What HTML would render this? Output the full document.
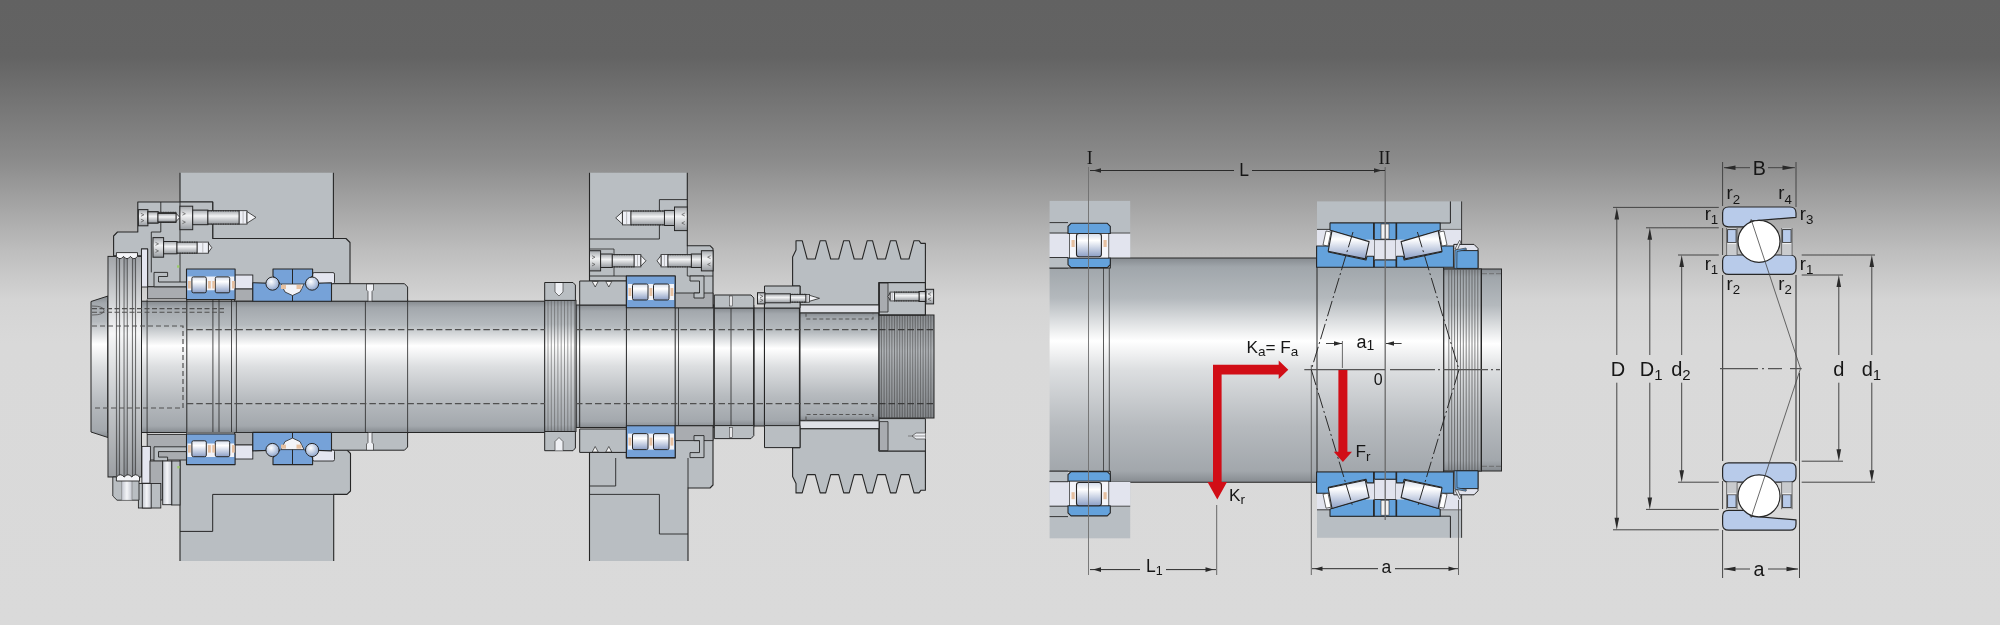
<!DOCTYPE html>
<html><head><meta charset="utf-8"><style>
html,body{margin:0;padding:0;width:2000px;height:625px;overflow:hidden;background:#cccccc;}
svg{display:block;font-family:"Liberation Sans",sans-serif;}
svg{will-change:transform;}
</style></head><body>
<svg width="2000" height="625" viewBox="0 0 2000 625">

<defs>
<linearGradient id="bg" x1="0" y1="0" x2="0" y2="625" gradientUnits="userSpaceOnUse">
<stop offset="0" stop-color="#626262"/>
<stop offset="0.09" stop-color="#636363"/>
<stop offset="0.256" stop-color="#8b8b8b"/>
<stop offset="0.40" stop-color="#bdbdbd"/>
<stop offset="0.48" stop-color="#d4d4d4"/>
<stop offset="0.55" stop-color="#d9d9d9"/>
<stop offset="1" stop-color="#dadada"/>
</linearGradient>
<linearGradient id="shaft" x1="0" y1="0" x2="0" y2="1">
<stop offset="0" stop-color="#868b90"/>
<stop offset="0.05" stop-color="#a3a8ad"/>
<stop offset="0.18" stop-color="#b5babe"/>
<stop offset="0.34" stop-color="#ffffff"/>
<stop offset="0.5" stop-color="#dcdee0"/>
<stop offset="0.75" stop-color="#b7bbbf"/>
<stop offset="0.95" stop-color="#a3a8ad"/>
<stop offset="1" stop-color="#868b90"/>
</linearGradient>
<linearGradient id="shaft2" x1="0" y1="0" x2="0" y2="1">
<stop offset="0" stop-color="#868b90"/>
<stop offset="0.04" stop-color="#a0a6ab"/>
<stop offset="0.18" stop-color="#b4b9bd"/>
<stop offset="0.37" stop-color="#ffffff"/>
<stop offset="0.5" stop-color="#dcdee0"/>
<stop offset="0.75" stop-color="#b6babe"/>
<stop offset="0.95" stop-color="#a2a7ac"/>
<stop offset="1" stop-color="#868b90"/>
</linearGradient>
<linearGradient id="shaftnut" x1="0" y1="0" x2="0" y2="1">
<stop offset="0" stop-color="#8e9297"/>
<stop offset="0.35" stop-color="#f4f5f6"/>
<stop offset="0.6" stop-color="#c4c7ca"/>
<stop offset="1" stop-color="#868a8f"/>
</linearGradient>
<linearGradient id="shaftdark" x1="0" y1="0" x2="0" y2="1">
<stop offset="0" stop-color="#7c8084"/>
<stop offset="0.35" stop-color="#a9adb1"/>
<stop offset="0.6" stop-color="#92969a"/>
<stop offset="1" stop-color="#75797d"/>
</linearGradient>
<linearGradient id="shaftdark2" x1="0" y1="0" x2="0" y2="1">
<stop offset="0" stop-color="#7d8186"/>
<stop offset="0.37" stop-color="#e6e8ea"/>
<stop offset="0.6" stop-color="#b0b4b8"/>
<stop offset="1" stop-color="#73777c"/>
</linearGradient>
<linearGradient id="roller" x1="0" y1="0" x2="0" y2="1">
<stop offset="0" stop-color="#d4dcea"/>
<stop offset="0.3" stop-color="#ffffff"/>
<stop offset="1" stop-color="#8c9fc6"/>
</linearGradient>
<linearGradient id="boltg" x1="0" y1="0" x2="0" y2="1">
<stop offset="0" stop-color="#a4a8ac"/>
<stop offset="0.4" stop-color="#f2f3f4"/>
<stop offset="1" stop-color="#979ba0"/>
</linearGradient>
<linearGradient id="boltv" x1="0" y1="0" x2="1" y2="0">
<stop offset="0" stop-color="#c4c8d0"/>
<stop offset="0.5" stop-color="#f4f5f8"/>
<stop offset="1" stop-color="#c4c8d0"/>
</linearGradient>
<radialGradient id="ball" cx="0.4" cy="0.35" r="0.7">
<stop offset="0" stop-color="#ffffff"/>
<stop offset="1" stop-color="#8aa2cc"/>
</radialGradient>
</defs>

<rect x="0" y="0" width="2000" height="625" fill="url(#bg)"/>
<polygon points="91.0,301.5 108.0,296.0 108.0,437.5 91.0,432.0" fill="url(#shaft)" stroke="#262626" stroke-width="1.0" stroke-linejoin="round" />
<rect x="108.0" y="301.2" width="437.0" height="131.3" rx="0" fill="url(#shaft)" stroke="#262626" stroke-width="1.0" />
<rect x="576.0" y="305.0" width="138.0" height="122.5" rx="0" fill="url(#shaft)" stroke="#262626" stroke-width="1.0" />
<rect x="714.0" y="308.0" width="40.0" height="117.5" rx="0" fill="url(#shaft)" stroke="#262626" stroke-width="1.0" />
<rect x="754.0" y="308.0" width="10.5" height="118.0" rx="0" fill="url(#shaft)" stroke="#262626" stroke-width="1.0" />
<rect x="764.5" y="308.0" width="35.5" height="118.5" rx="0" fill="url(#shaft)" stroke="#262626" stroke-width="1.0" />
<rect x="800.0" y="312.8" width="79.0" height="107.6" rx="0" fill="url(#shaft)" stroke="#262626" stroke-width="1.0" />
<rect x="879.0" y="315.0" width="55.0" height="103.0" rx="0" fill="url(#shaftdark)" stroke="#262626" stroke-width="1.0" />
<line x1="881.5" y1="315.5" x2="881.5" y2="417.5" stroke="#555" stroke-width="0.6" />
<line x1="882.8" y1="315.5" x2="882.8" y2="417.5" stroke="#c8cacc" stroke-width="0.5" opacity="0.5"/>
<line x1="884.1" y1="315.5" x2="884.1" y2="417.5" stroke="#555" stroke-width="0.6" />
<line x1="885.4" y1="315.5" x2="885.4" y2="417.5" stroke="#c8cacc" stroke-width="0.5" opacity="0.5"/>
<line x1="886.7" y1="315.5" x2="886.7" y2="417.5" stroke="#555" stroke-width="0.6" />
<line x1="888.0" y1="315.5" x2="888.0" y2="417.5" stroke="#c8cacc" stroke-width="0.5" opacity="0.5"/>
<line x1="889.3" y1="315.5" x2="889.3" y2="417.5" stroke="#555" stroke-width="0.6" />
<line x1="890.6" y1="315.5" x2="890.6" y2="417.5" stroke="#c8cacc" stroke-width="0.5" opacity="0.5"/>
<line x1="891.9" y1="315.5" x2="891.9" y2="417.5" stroke="#555" stroke-width="0.6" />
<line x1="893.2" y1="315.5" x2="893.2" y2="417.5" stroke="#c8cacc" stroke-width="0.5" opacity="0.5"/>
<line x1="894.5" y1="315.5" x2="894.5" y2="417.5" stroke="#555" stroke-width="0.6" />
<line x1="895.8" y1="315.5" x2="895.8" y2="417.5" stroke="#c8cacc" stroke-width="0.5" opacity="0.5"/>
<line x1="897.1" y1="315.5" x2="897.1" y2="417.5" stroke="#555" stroke-width="0.6" />
<line x1="898.4" y1="315.5" x2="898.4" y2="417.5" stroke="#c8cacc" stroke-width="0.5" opacity="0.5"/>
<line x1="899.7" y1="315.5" x2="899.7" y2="417.5" stroke="#555" stroke-width="0.6" />
<line x1="901.0" y1="315.5" x2="901.0" y2="417.5" stroke="#c8cacc" stroke-width="0.5" opacity="0.5"/>
<line x1="902.3" y1="315.5" x2="902.3" y2="417.5" stroke="#555" stroke-width="0.6" />
<line x1="903.6" y1="315.5" x2="903.6" y2="417.5" stroke="#c8cacc" stroke-width="0.5" opacity="0.5"/>
<line x1="904.9" y1="315.5" x2="904.9" y2="417.5" stroke="#555" stroke-width="0.6" />
<line x1="906.2" y1="315.5" x2="906.2" y2="417.5" stroke="#c8cacc" stroke-width="0.5" opacity="0.5"/>
<line x1="907.5" y1="315.5" x2="907.5" y2="417.5" stroke="#555" stroke-width="0.6" />
<line x1="908.8" y1="315.5" x2="908.8" y2="417.5" stroke="#c8cacc" stroke-width="0.5" opacity="0.5"/>
<line x1="910.1" y1="315.5" x2="910.1" y2="417.5" stroke="#555" stroke-width="0.6" />
<line x1="911.4" y1="315.5" x2="911.4" y2="417.5" stroke="#c8cacc" stroke-width="0.5" opacity="0.5"/>
<line x1="912.7" y1="315.5" x2="912.7" y2="417.5" stroke="#555" stroke-width="0.6" />
<line x1="914.0" y1="315.5" x2="914.0" y2="417.5" stroke="#c8cacc" stroke-width="0.5" opacity="0.5"/>
<line x1="915.3" y1="315.5" x2="915.3" y2="417.5" stroke="#555" stroke-width="0.6" />
<line x1="916.6" y1="315.5" x2="916.6" y2="417.5" stroke="#c8cacc" stroke-width="0.5" opacity="0.5"/>
<line x1="917.9" y1="315.5" x2="917.9" y2="417.5" stroke="#555" stroke-width="0.6" />
<line x1="919.2" y1="315.5" x2="919.2" y2="417.5" stroke="#c8cacc" stroke-width="0.5" opacity="0.5"/>
<line x1="920.5" y1="315.5" x2="920.5" y2="417.5" stroke="#555" stroke-width="0.6" />
<line x1="921.8" y1="315.5" x2="921.8" y2="417.5" stroke="#c8cacc" stroke-width="0.5" opacity="0.5"/>
<line x1="923.1" y1="315.5" x2="923.1" y2="417.5" stroke="#555" stroke-width="0.6" />
<line x1="924.4" y1="315.5" x2="924.4" y2="417.5" stroke="#c8cacc" stroke-width="0.5" opacity="0.5"/>
<line x1="925.7" y1="315.5" x2="925.7" y2="417.5" stroke="#555" stroke-width="0.6" />
<line x1="927.0" y1="315.5" x2="927.0" y2="417.5" stroke="#c8cacc" stroke-width="0.5" opacity="0.5"/>
<line x1="928.3" y1="315.5" x2="928.3" y2="417.5" stroke="#555" stroke-width="0.6" />
<line x1="929.6" y1="315.5" x2="929.6" y2="417.5" stroke="#c8cacc" stroke-width="0.5" opacity="0.5"/>
<line x1="930.9" y1="315.5" x2="930.9" y2="417.5" stroke="#555" stroke-width="0.6" />
<line x1="932.2" y1="315.5" x2="932.2" y2="417.5" stroke="#c8cacc" stroke-width="0.5" opacity="0.5"/>
<rect x="544.7" y="300.4" width="31.3" height="131.1" rx="0" fill="url(#shaft)" stroke="#262626" stroke-width="1.0" />
<line x1="548.0" y1="300.6" x2="548.0" y2="431.3" stroke="#5c5c5c" stroke-width="0.6" />
<line x1="551.3" y1="300.6" x2="551.3" y2="431.3" stroke="#5c5c5c" stroke-width="0.6" />
<line x1="554.6" y1="300.6" x2="554.6" y2="431.3" stroke="#5c5c5c" stroke-width="0.6" />
<line x1="557.9" y1="300.6" x2="557.9" y2="431.3" stroke="#5c5c5c" stroke-width="0.6" />
<line x1="561.2" y1="300.6" x2="561.2" y2="431.3" stroke="#5c5c5c" stroke-width="0.6" />
<line x1="564.5" y1="300.6" x2="564.5" y2="431.3" stroke="#5c5c5c" stroke-width="0.6" />
<line x1="567.8" y1="300.6" x2="567.8" y2="431.3" stroke="#5c5c5c" stroke-width="0.6" />
<line x1="571.1" y1="300.6" x2="571.1" y2="431.3" stroke="#5c5c5c" stroke-width="0.6" />
<line x1="574.4" y1="300.6" x2="574.4" y2="431.3" stroke="#5c5c5c" stroke-width="0.6" />
<line x1="141.5" y1="299.5" x2="141.5" y2="434.0" stroke="#262626" stroke-width="1.0" />
<line x1="147.1" y1="299.5" x2="147.1" y2="434.0" stroke="#262626" stroke-width="0.8" />
<line x1="186.8" y1="299.5" x2="186.8" y2="434.0" stroke="#262626" stroke-width="1.0" />
<line x1="212.9" y1="299.5" x2="212.9" y2="434.0" stroke="#262626" stroke-width="0.8" />
<line x1="219.0" y1="299.5" x2="219.0" y2="434.0" stroke="#262626" stroke-width="0.8" />
<line x1="231.5" y1="299.5" x2="231.5" y2="434.0" stroke="#262626" stroke-width="0.8" />
<line x1="236.4" y1="299.5" x2="236.4" y2="434.0" stroke="#262626" stroke-width="0.8" />
<line x1="365.4" y1="299.5" x2="365.4" y2="434.0" stroke="#262626" stroke-width="0.8" />
<line x1="407.6" y1="299.5" x2="407.6" y2="434.0" stroke="#262626" stroke-width="0.8" />
<line x1="579.7" y1="305.0" x2="579.7" y2="427.5" stroke="#262626" stroke-width="1.0" />
<line x1="626.4" y1="305.0" x2="626.4" y2="427.5" stroke="#262626" stroke-width="1.0" />
<line x1="675.2" y1="305.0" x2="675.2" y2="427.5" stroke="#262626" stroke-width="1.0" />
<line x1="678.5" y1="305.0" x2="678.5" y2="427.5" stroke="#262626" stroke-width="0.8" />
<line x1="714.3" y1="305.0" x2="714.3" y2="427.5" stroke="#262626" stroke-width="0.8" />
<line x1="731.0" y1="305.0" x2="731.0" y2="427.5" stroke="#262626" stroke-width="0.8" />
<line x1="753.8" y1="305.0" x2="753.8" y2="427.5" stroke="#262626" stroke-width="1.0" />
<line x1="764.4" y1="305.0" x2="764.4" y2="427.5" stroke="#262626" stroke-width="1.0" />
<line x1="799.4" y1="305.0" x2="799.4" y2="427.5" stroke="#262626" stroke-width="1.0" />
<rect x="108.0" y="256.4" width="33.5" height="220.6" rx="0" fill="url(#shaftnut)" stroke="#262626" stroke-width="1.0" />
<line x1="116.4" y1="257.0" x2="116.4" y2="476.5" stroke="#3a3a3a" stroke-width="0.75" />
<line x1="119.6" y1="257.0" x2="119.6" y2="476.5" stroke="#3a3a3a" stroke-width="0.75" />
<line x1="124.0" y1="257.0" x2="124.0" y2="476.5" stroke="#3a3a3a" stroke-width="0.75" />
<line x1="127.3" y1="257.0" x2="127.3" y2="476.5" stroke="#3a3a3a" stroke-width="0.75" />
<line x1="132.4" y1="257.0" x2="132.4" y2="476.5" stroke="#3a3a3a" stroke-width="0.75" />
<line x1="135.6" y1="257.0" x2="135.6" y2="476.5" stroke="#3a3a3a" stroke-width="0.75" />
<rect x="108.5" y="257.0" width="7.5" height="219.0" rx="0" fill="#ffffff" stroke="none" opacity="0.18"/>
<rect x="120.0" y="257.0" width="3.6" height="219.0" rx="0" fill="#ffffff" stroke="none" opacity="0.18"/>
<rect x="127.7" y="257.0" width="4.3" height="219.0" rx="0" fill="#ffffff" stroke="none" opacity="0.18"/>
<rect x="136.0" y="257.0" width="5.0" height="219.0" rx="0" fill="#ffffff" stroke="none" opacity="0.18"/>
<line x1="236.4" y1="329.7" x2="545.0" y2="329.7" stroke="#505050" stroke-width="1.3" stroke-dasharray="6.5,3"/>
<line x1="576.0" y1="329.7" x2="879.0" y2="329.7" stroke="#505050" stroke-width="1.3" stroke-dasharray="6.5,3"/>
<line x1="879.0" y1="329.7" x2="934.0" y2="329.7" stroke="#3a3a3a" stroke-width="1.2" stroke-dasharray="6.5,3"/>
<line x1="236.4" y1="403.7" x2="545.0" y2="403.7" stroke="#505050" stroke-width="1.3" stroke-dasharray="6.5,3"/>
<line x1="576.0" y1="403.7" x2="879.0" y2="403.7" stroke="#505050" stroke-width="1.3" stroke-dasharray="6.5,3"/>
<line x1="879.0" y1="403.7" x2="934.0" y2="403.7" stroke="#3a3a3a" stroke-width="1.2" stroke-dasharray="6.5,3"/>
<path d="M92,326 L183,326 L183,408 L92,408" fill="none" stroke="#505050" stroke-width="1.2" stroke-dasharray="5,3"/>
<line x1="186.8" y1="329.7" x2="236.4" y2="329.7" stroke="#505050" stroke-width="1.3" stroke-dasharray="6.5,3"/>
<line x1="186.8" y1="403.7" x2="236.4" y2="403.7" stroke="#505050" stroke-width="1.3" stroke-dasharray="6.5,3"/>
<line x1="92.0" y1="308.6" x2="224.0" y2="308.6" stroke="#505050" stroke-width="1.1" stroke-dasharray="5,2.5"/>
<line x1="92.0" y1="312.3" x2="224.0" y2="312.3" stroke="#505050" stroke-width="1.1" stroke-dasharray="5,2.5"/>
<path d="M92,306 Q104,306 104,310.5 Q104,315 92,315" fill="none" stroke="#505050" stroke-width="0.8" />
<polygon points="180.0,172.8 333.4,172.8 333.4,238.5 212.7,238.5 212.7,202.0 180.0,202.0" fill="#b9bec2" stroke="none" stroke-linejoin="round" />
<path d="M333.4,172.8 L333.4,238.5 L212.7,238.5 L212.7,202.0 L180.0,202.0 L180.0,172.8" fill="none" stroke="#262626" stroke-width="1.1" stroke-linejoin="round"/>
<polygon points="137.8,202.0 212.7,202.0 212.7,238.5 346.0,238.5 350.0,242.5 350.0,283.7 186.8,283.7 186.8,286.8 147.6,286.8 147.6,249.0 141.5,249.0 141.5,255.8 113.6,255.8 113.6,236.0 117.5,232.0 137.8,232.0" fill="#b9bec2" stroke="#262626" stroke-width="1.1" stroke-linejoin="round" />
<line x1="180.0" y1="202.0" x2="180.0" y2="283.7" stroke="#262626" stroke-width="0.9" />
<polygon points="331.5,283.7 404.5,283.7 407.6,287.0 407.6,301.2 331.5,301.2" fill="#b9bec2" stroke="#262626" stroke-width="1.0" stroke-linejoin="round" />
<path d="M366.5,284 L373.5,284 L373.5,290 L372,291.5 L372,301.2 L368,301.2 L368,291.5 L366.5,290 Z" fill="#eef0f4" stroke="#333" stroke-width="0.7"/>
<rect x="147.6" y="286.8" width="39.2" height="12.0" rx="0" fill="#a9acb0" stroke="#262626" stroke-width="0.9" />
<rect x="141.5" y="249.0" width="6.1" height="38.0" rx="0" fill="#e4e6f0" stroke="#262626" stroke-width="0.9" />
<polygon points="154.0,272.4 167.6,272.4 167.6,276.5 158.5,276.5 158.5,282.0 186.8,282.0 186.8,286.8 154.0,286.8" fill="#b9bec2" stroke="#262626" stroke-width="0.9" stroke-linejoin="round" />
<rect x="234.6" y="275.0" width="18.2" height="14.0" rx="0" fill="#e4e6f0" stroke="#262626" stroke-width="0.9" />
<rect x="234.6" y="289.0" width="18.2" height="12.0" rx="0" fill="#a9acb0" stroke="#262626" stroke-width="0.9" />
<rect x="312.6" y="272.6" width="21.9" height="11.1" rx="1.5" fill="#e4e6f0" stroke="#262626" stroke-width="0.9" />
<polygon points="186.5,269.0 235.1,269.0 235.1,299.6 186.5,299.6" fill="#76a2d8" stroke="#262626" stroke-width="1.1" stroke-linejoin="round" />
<polygon points="187.5,276.6 234.1,276.6 234.1,290.2 187.5,290.2" fill="#f2f3f8" stroke="none" stroke-linejoin="round" />
<rect x="191.9" y="276.9" width="14.4" height="15.9" rx="1.5" fill="url(#roller)" stroke="#262626" stroke-width="1.0" />
<rect x="215.3" y="276.9" width="14.4" height="15.9" rx="1.5" fill="url(#roller)" stroke="#262626" stroke-width="1.0" />
<rect x="188.0" y="281.0" width="2.8" height="7.5" rx="0" fill="#e6c0a0" stroke="none" />
<rect x="208.0" y="281.0" width="2.8" height="7.5" rx="0" fill="#e6c0a0" stroke="none" />
<rect x="212.3" y="281.0" width="2.8" height="7.5" rx="0" fill="#e6c0a0" stroke="none" />
<rect x="232.0" y="281.0" width="2.8" height="7.5" rx="0" fill="#e6c0a0" stroke="none" />
<polygon points="273.0,269.0 312.6,269.0 312.6,276.0 305.0,283.6 331.5,282.7 331.5,301.2 252.8,301.2 252.8,282.7 280.0,283.6 273.0,276.0" fill="#76a2d8" stroke="#262626" stroke-width="1.1" stroke-linejoin="round" />
<line x1="292.5" y1="269.0" x2="292.5" y2="301.2" stroke="#262626" stroke-width="1.0" />
<polygon points="281.0,284.0 304.0,284.0 300.0,292.0 292.5,295.5 285.0,292.0" fill="#f2f3f8" stroke="#262626" stroke-width="0.8" stroke-linejoin="round" />
<polygon points="281.0,285.0 286.0,285.0 286.0,289.0 281.0,289.0" fill="#e6c0a0" stroke="none" stroke-linejoin="round" />
<polygon points="296.5,285.0 301.5,285.0 301.5,289.0 296.5,289.0" fill="#e6c0a0" stroke="none" stroke-linejoin="round" />
<circle cx="272.5" cy="283.6" r="6.6" fill="url(#ball)" stroke="#262626" stroke-width="1.0"/>
<circle cx="312.1" cy="283.6" r="6.6" fill="url(#ball)" stroke="#262626" stroke-width="1.0"/>
<path d="M160.8,202 L160.8,212 M160.8,222.5 L160.8,232 L151.3,232 L151.3,272.4" fill="none" stroke="#262626" stroke-width="0.9" />
<rect x="138.4" y="209.6" width="9.5" height="16.2" rx="0" fill="url(#boltg)" stroke="#262626" stroke-width="1.0" />
<path d="M140.9,213.284 L143.9,214.784 L140.9,216.284" fill="none" stroke="#555" stroke-width="0.7" />
<path d="M140.9,219.116 L143.9,220.616 L140.9,222.116" fill="none" stroke="#555" stroke-width="0.7" />
<rect x="147.9" y="211.8" width="10.1" height="11.2" rx="0" fill="url(#boltg)" stroke="#262626" stroke-width="1.0" />
<rect x="158.0" y="212.4" width="18.0" height="10.0" rx="0" fill="url(#boltg)" stroke="#262626" stroke-width="0.9" />
<path d="M158,212.4 L176,212.4 M158,222.4 L176,222.4" stroke="#333" stroke-width="1.4" stroke-dasharray="0.8,0.9" fill="none"/>
<rect x="176.0" y="212.4" width="0.0" height="10.0" rx="0" fill="#eef0f6" stroke="#262626" stroke-width="0.8" />
<line x1="176.0" y1="212.8" x2="176.0" y2="222.0" stroke="#999" stroke-width="0.6" />
<polygon points="176.0,213.3 179.9,217.4 176.0,221.5" fill="#f2f3f6" stroke="#262626" stroke-width="0.8" stroke-linejoin="round" />
<rect x="147.9" y="211.8" width="10.1" height="11.2" rx="0" fill="url(#boltg)" stroke="#262626" stroke-width="1.0" />
<rect x="158.0" y="213.5" width="18.0" height="8.4" rx="0" fill="url(#boltg)" stroke="#262626" stroke-width="0.9" />
<rect x="179.9" y="206.2" width="12.8" height="23.5" rx="0" fill="url(#boltg)" stroke="#262626" stroke-width="1.0" />
<path d="M182.4,212.22 L185.4,213.72 L182.4,215.22" fill="none" stroke="#555" stroke-width="0.7" />
<path d="M182.4,220.67999999999998 L185.4,222.17999999999998 L182.4,223.67999999999998" fill="none" stroke="#555" stroke-width="0.7" />
<rect x="192.7" y="210.1" width="15.2" height="14.6" rx="0" fill="url(#boltg)" stroke="#262626" stroke-width="1.0" />
<rect x="207.9" y="210.7" width="31.3" height="13.4" rx="0" fill="url(#boltg)" stroke="#262626" stroke-width="0.9" />
<path d="M207.9,210.7 L239.2,210.7 M207.9,224.1 L239.2,224.1" stroke="#333" stroke-width="1.4" stroke-dasharray="0.8,0.9" fill="none"/>
<rect x="239.2" y="210.7" width="7.8" height="13.4" rx="0" fill="#eef0f6" stroke="#262626" stroke-width="0.8" />
<line x1="243.1" y1="211.1" x2="243.1" y2="223.7" stroke="#999" stroke-width="0.6" />
<polygon points="247.0,211.6 256.0,217.4 247.0,223.2" fill="#f2f3f6" stroke="#262626" stroke-width="0.8" stroke-linejoin="round" />
<rect x="153.0" y="237.6" width="10.6" height="19.6" rx="0" fill="url(#boltg)" stroke="#262626" stroke-width="1.0" />
<path d="M155.5,242.37199999999999 L158.5,243.87199999999999 L155.5,245.37199999999999" fill="none" stroke="#555" stroke-width="0.7" />
<path d="M155.5,249.428 L158.5,250.928 L155.5,252.428" fill="none" stroke="#555" stroke-width="0.7" />
<rect x="163.6" y="241.5" width="13.4" height="12.3" rx="0" fill="url(#boltg)" stroke="#262626" stroke-width="1.0" />
<rect x="177.0" y="242.1" width="20.2" height="11.1" rx="0" fill="url(#boltg)" stroke="#262626" stroke-width="0.9" />
<path d="M177,242.1 L197.2,242.1 M177,253.20000000000002 L197.2,253.20000000000002" stroke="#333" stroke-width="1.4" stroke-dasharray="0.8,0.9" fill="none"/>
<rect x="197.2" y="242.1" width="11.2" height="11.1" rx="0" fill="#eef0f6" stroke="#262626" stroke-width="0.8" />
<line x1="202.8" y1="242.5" x2="202.8" y2="252.8" stroke="#999" stroke-width="0.6" />
<polygon points="208.4,243.0 211.8,247.7 208.4,252.3" fill="#f2f3f6" stroke="#262626" stroke-width="0.8" stroke-linejoin="round" />
<rect x="177.0" y="265.3" width="2.4" height="2.4" rx="0" fill="#9ccc6a" stroke="none" />
<polygon points="180.0,450.0 347.0,450.0 350.5,453.5 350.5,491.0 347.0,494.4 333.7,494.4 333.7,561.0 180.0,561.0" fill="#b9bec2" stroke="none" stroke-linejoin="round" />
<path d="M180.0,561.0 L180.0,450.0 L347.0,450.0 L350.5,453.5 L350.5,491.0 L347.0,494.4 L333.7,494.4 L333.7,561.0" fill="none" stroke="#262626" stroke-width="1.1" stroke-linejoin="round"/>
<path d="M212.7,494.4 L333.7,494.4 M212.7,494.4 L212.7,531.4 L180,531.4" fill="none" stroke="#262626" stroke-width="1.0" />
<polygon points="186.8,432.5 350.5,432.5 350.5,450.0 186.8,450.0" fill="#b9bec2" stroke="none" stroke-linejoin="round" />
<polygon points="331.5,432.5 407.6,432.5 407.6,447.0 404.5,450.2 331.5,450.2" fill="#b9bec2" stroke="#262626" stroke-width="1.0" stroke-linejoin="round" />
<path d="M366.5,450.2 L373.5,450.2 L373.5,444 L372,442.5 L372,432.5 L368,432.5 L368,442.5 L366.5,444 Z" fill="#eef0f4" stroke="#333" stroke-width="0.7"/>
<rect x="147.2" y="434.4" width="39.6" height="25.6" rx="0" fill="#a9acb0" stroke="#262626" stroke-width="0.9" />
<rect x="234.6" y="432.5" width="18.2" height="12.5" rx="0" fill="#a9acb0" stroke="#262626" stroke-width="0.9" />
<rect x="234.6" y="445.0" width="18.2" height="14.0" rx="0" fill="#e4e6f0" stroke="#262626" stroke-width="0.9" />
<rect x="312.6" y="450.0" width="21.9" height="11.0" rx="1.5" fill="#e4e6f0" stroke="#262626" stroke-width="0.9" />
<rect x="141.9" y="446.4" width="8.5" height="36.8" rx="0" fill="#e4e6f0" stroke="#262626" stroke-width="0.9" />
<polygon points="154.0,461.2 167.6,461.2 167.6,457.1 158.5,457.1 158.5,451.6 186.8,451.6 186.8,446.8 154.0,446.8" fill="#b9bec2" stroke="#262626" stroke-width="0.9" stroke-linejoin="round" />
<rect x="171.7" y="461.0" width="8.3" height="44.0" rx="0" fill="#b9bec2" stroke="#262626" stroke-width="0.9" />
<rect x="150.0" y="461.0" width="12.7" height="39.0" rx="0" fill="#a9acb0" stroke="#262626" stroke-width="0.9" />
<rect x="138.4" y="483.5" width="22.4" height="24.5" rx="0" fill="#b9bec2" stroke="#262626" stroke-width="0.9" />
<rect x="142.3" y="483.5" width="8.9" height="24.5" rx="0" fill="url(#boltv)" stroke="#262626" stroke-width="0.9" />
<rect x="162.7" y="461.0" width="9.0" height="43.7" rx="0" fill="url(#boltv)" stroke="#262626" stroke-width="0.9" />
<polygon points="112.8,477.0 139.0,477.0 139.0,500.2 117.0,500.2 112.8,496.0" fill="#b9bec2" stroke="#262626" stroke-width="0.9" stroke-linejoin="round" />
<rect x="121.8" y="478.0" width="10.2" height="22.2" rx="0" fill="url(#boltv)" stroke="#777" stroke-width="0.6" />
<rect x="177.3" y="466.0" width="2.4" height="2.4" rx="0" fill="#9ccc6a" stroke="none" />
<path d="M116.4,256.4 L116.4,252.6 L137.5,252.6 L137.5,256.4 Q133.8,261 130.4,256.4 Q127,261 123.6,256.4 Q120,261 116.4,256.4 Z" fill="#f4f5f8" stroke="#262626" stroke-width="0.9"/>
<path d="M116.4,477 L116.4,481 L139.5,481 L139.5,477 Q135.6,472.5 131.8,477 Q128,472.5 124.2,477 Q120.3,472.5 116.4,477 Z" fill="#f4f5f8" stroke="#262626" stroke-width="0.9"/>
<polygon points="186.5,464.6 235.1,464.6 235.1,434.0 186.5,434.0" fill="#76a2d8" stroke="#262626" stroke-width="1.1" stroke-linejoin="round" />
<polygon points="187.5,457.0 234.1,457.0 234.1,443.4 187.5,443.4" fill="#f2f3f8" stroke="none" stroke-linejoin="round" />
<rect x="191.9" y="440.8" width="14.4" height="15.9" rx="1.5" fill="url(#roller)" stroke="#262626" stroke-width="1.0" />
<rect x="215.3" y="440.8" width="14.4" height="15.9" rx="1.5" fill="url(#roller)" stroke="#262626" stroke-width="1.0" />
<rect x="188.0" y="445.1" width="2.8" height="7.5" rx="0" fill="#e6c0a0" stroke="none" />
<rect x="208.0" y="445.1" width="2.8" height="7.5" rx="0" fill="#e6c0a0" stroke="none" />
<rect x="212.3" y="445.1" width="2.8" height="7.5" rx="0" fill="#e6c0a0" stroke="none" />
<rect x="232.0" y="445.1" width="2.8" height="7.5" rx="0" fill="#e6c0a0" stroke="none" />
<polygon points="273.0,464.6 312.6,464.6 312.6,457.6 305.0,450.0 331.5,450.9 331.5,432.4 252.8,432.4 252.8,450.9 280.0,450.0 273.0,457.6" fill="#76a2d8" stroke="#262626" stroke-width="1.1" stroke-linejoin="round" />
<line x1="292.5" y1="464.6" x2="292.5" y2="432.4" stroke="#262626" stroke-width="1.0" />
<polygon points="281.0,449.6 304.0,449.6 300.0,441.6 292.5,438.1 285.0,441.6" fill="#f2f3f8" stroke="#262626" stroke-width="0.8" stroke-linejoin="round" />
<polygon points="281.0,448.6 286.0,448.6 286.0,444.6 281.0,444.6" fill="#e6c0a0" stroke="none" stroke-linejoin="round" />
<polygon points="296.5,448.6 301.5,448.6 301.5,444.6 296.5,444.6" fill="#e6c0a0" stroke="none" stroke-linejoin="round" />
<circle cx="272.5" cy="450.0" r="6.6" fill="url(#ball)" stroke="#262626" stroke-width="1.0"/>
<circle cx="312.1" cy="450.0" r="6.6" fill="url(#ball)" stroke="#262626" stroke-width="1.0"/>
<polygon points="589.5,172.8 687.3,172.8 687.3,245.7 710.0,245.7 713.0,248.7 713.0,307.8 675.2,307.8 675.2,276.0 626.4,276.0 626.4,281.0 589.5,281.0" fill="#b9bec2" stroke="none" stroke-linejoin="round" />
<path d="M687.3,172.8 L687.3,245.7 L710.0,245.7 L713.0,248.7 L713.0,307.8 L675.2,307.8 L675.2,276.0 L626.4,276.0 L626.4,281.0 L589.5,281.0 L589.5,172.8" fill="none" stroke="#262626" stroke-width="1.1" stroke-linejoin="round"/>
<path d="M659.4,199.6 L687.3,199.6 M659.4,199.6 L659.4,239 L589.5,239 M589.5,276 L626.4,276" fill="none" stroke="#262626" stroke-width="0.9" />
<path d="M589.5,249 L614,249 L614,276 M687.3,245.7 L687.3,276 L713,276" fill="none" stroke="#262626" stroke-width="0.8" />
<polygon points="544.7,282.5 573.0,282.5 575.4,285.0 575.4,300.4 544.7,300.4" fill="#b9bec2" stroke="#262626" stroke-width="1.0" stroke-linejoin="round" />
<path d="M555,283 L555,292 L559,296 L563,292 L563,283" fill="#eef0f4" stroke="#444" stroke-width="0.7"/>
<polygon points="579.7,281.0 626.4,281.0 626.4,305.0 579.7,305.0" fill="#b9bec2" stroke="#262626" stroke-width="1.0" stroke-linejoin="round" />
<polygon points="592.2,281.5 598.2,281.5 595.2,287.0" fill="#f4f4f4" stroke="#262626" stroke-width="0.7" stroke-linejoin="round" />
<polygon points="605.8,281.5 611.8,281.5 608.8,287.0" fill="#f4f4f4" stroke="#262626" stroke-width="0.7" stroke-linejoin="round" />
<polygon points="589.5,452.4 626.4,452.4 626.4,458.0 675.2,458.0 675.2,425.5 713.0,425.5 713.0,485.0 710.0,488.0 688.0,488.0 688.0,561.0 589.5,561.0" fill="#b9bec2" stroke="none" stroke-linejoin="round" />
<path d="M589.5,561.0 L589.5,452.4 L626.4,452.4 L626.4,458.0 L675.2,458.0 L675.2,425.5 L713.0,425.5 L713.0,485.0 L710.0,488.0 L688.0,488.0 L688.0,561.0" fill="none" stroke="#262626" stroke-width="1.1" stroke-linejoin="round"/>
<path d="M589.5,486 L615.7,486 L615.7,458 M589.5,494.4 L659.4,494.4 L659.4,534 L688,534 M688,458 L688,488" fill="none" stroke="#262626" stroke-width="0.9" />
<polygon points="544.7,431.5 575.4,431.5 575.4,448.0 573.0,450.7 544.7,450.7" fill="#b9bec2" stroke="#262626" stroke-width="1.0" stroke-linejoin="round" />
<path d="M555,450.5 L555,441.5 L559,437.5 L563,441.5 L563,450.5" fill="#eef0f4" stroke="#444" stroke-width="0.7"/>
<polygon points="579.7,429.0 626.4,429.0 626.4,452.4 579.7,452.4" fill="#b9bec2" stroke="#262626" stroke-width="1.0" stroke-linejoin="round" />
<polygon points="592.2,452.0 598.2,452.0 595.2,446.5" fill="#f4f4f4" stroke="#262626" stroke-width="0.7" stroke-linejoin="round" />
<polygon points="605.8,452.0 611.8,452.0 608.8,446.5" fill="#f4f4f4" stroke="#262626" stroke-width="0.7" stroke-linejoin="round" />
<polygon points="626.4,276.0 675.2,276.0 675.2,307.8 626.4,307.8" fill="#76a2d8" stroke="#262626" stroke-width="1.1" stroke-linejoin="round" />
<rect x="628.0" y="284.0" width="46.0" height="16.0" rx="0" fill="#f2f3f8" stroke="none" />
<rect x="632.5" y="284.0" width="15.5" height="16.0" rx="1.5" fill="url(#roller)" stroke="#262626" stroke-width="1.0" />
<rect x="653.5" y="284.0" width="15.5" height="16.0" rx="1.5" fill="url(#roller)" stroke="#262626" stroke-width="1.0" />
<rect x="628.5" y="288.0" width="2.8" height="8.0" rx="0" fill="#e6c0a0" stroke="none" />
<rect x="649.5" y="288.0" width="2.8" height="8.0" rx="0" fill="#e6c0a0" stroke="none" />
<rect x="670.5" y="288.0" width="2.8" height="8.0" rx="0" fill="#e6c0a0" stroke="none" />
<polygon points="675.2,293.0 713.0,293.0 713.0,307.8 675.2,307.8" fill="#a9acb0" stroke="#262626" stroke-width="0.9" stroke-linejoin="round" />
<polygon points="690.0,276.0 704.0,276.0 704.0,298.0 694.0,298.0 694.0,293.0 699.5,293.0 699.5,281.0 690.0,281.0" fill="#b9bec2" stroke="#262626" stroke-width="0.9" stroke-linejoin="round" />
<polygon points="714.3,295.0 751.0,295.0 753.8,298.0 753.8,308.0 714.3,308.0" fill="#b9bec2" stroke="#262626" stroke-width="1.0" stroke-linejoin="round" />
<rect x="729.5" y="296.0" width="3.0" height="10.0" rx="0" fill="#e8e8ea" stroke="#262626" stroke-width="0.5" />
<polygon points="626.4,457.6 675.2,457.6 675.2,425.8 626.4,425.8" fill="#76a2d8" stroke="#262626" stroke-width="1.1" stroke-linejoin="round" />
<rect x="628.0" y="433.6" width="46.0" height="16.0" rx="0" fill="#f2f3f8" stroke="none" />
<rect x="632.5" y="433.6" width="15.5" height="16.0" rx="1.5" fill="url(#roller)" stroke="#262626" stroke-width="1.0" />
<rect x="653.5" y="433.6" width="15.5" height="16.0" rx="1.5" fill="url(#roller)" stroke="#262626" stroke-width="1.0" />
<rect x="628.5" y="437.6" width="2.8" height="8.0" rx="0" fill="#e6c0a0" stroke="none" />
<rect x="649.5" y="437.6" width="2.8" height="8.0" rx="0" fill="#e6c0a0" stroke="none" />
<rect x="670.5" y="437.6" width="2.8" height="8.0" rx="0" fill="#e6c0a0" stroke="none" />
<polygon points="675.2,440.6 713.0,440.6 713.0,425.8 675.2,425.8" fill="#a9acb0" stroke="#262626" stroke-width="0.9" stroke-linejoin="round" />
<polygon points="690.0,457.6 704.0,457.6 704.0,435.6 694.0,435.6 694.0,440.6 699.5,440.6 699.5,452.6 690.0,452.6" fill="#b9bec2" stroke="#262626" stroke-width="0.9" stroke-linejoin="round" />
<polygon points="714.3,438.6 751.0,438.6 753.8,435.6 753.8,425.6 714.3,425.6" fill="#b9bec2" stroke="#262626" stroke-width="1.0" stroke-linejoin="round" />
<rect x="729.5" y="427.6" width="3.0" height="10.0" rx="0" fill="#e8e8ea" stroke="#262626" stroke-width="0.5" />
<rect x="674.5" y="207.0" width="12.8" height="23.6" rx="0" fill="url(#boltg)" stroke="#262626" stroke-width="1.0" />
<path d="M684.8,213.052 L681.8,214.552 L684.8,216.052" fill="none" stroke="#555" stroke-width="0.7" />
<path d="M684.8,221.548 L681.8,223.048 L684.8,224.548" fill="none" stroke="#555" stroke-width="0.7" />
<rect x="664.4" y="210.4" width="10.1" height="15.1" rx="0" fill="url(#boltg)" stroke="#262626" stroke-width="1.0" />
<rect x="630.8" y="211.0" width="33.6" height="13.9" rx="0" fill="url(#boltg)" stroke="#262626" stroke-width="0.9" />
<path d="M664.4000000000001,211.0 L630.8,211.0 M664.4000000000001,224.9 L630.8,224.9" stroke="#333" stroke-width="1.4" stroke-dasharray="0.8,0.9" fill="none"/>
<rect x="622.4" y="211.0" width="8.4" height="13.9" rx="0" fill="#eef0f6" stroke="#262626" stroke-width="0.8" />
<line x1="626.6" y1="211.4" x2="626.6" y2="224.5" stroke="#999" stroke-width="0.6" />
<polygon points="622.4,211.9 615.7,217.9 622.4,224.0" fill="#f2f3f6" stroke="#262626" stroke-width="0.8" stroke-linejoin="round" />
<rect x="589.5" y="250.7" width="11.1" height="20.2" rx="0" fill="url(#boltg)" stroke="#262626" stroke-width="1.0" />
<path d="M592.0,255.664 L595.0,257.164 L592.0,258.664" fill="none" stroke="#555" stroke-width="0.7" />
<path d="M592.0,262.936 L595.0,264.436 L592.0,265.936" fill="none" stroke="#555" stroke-width="0.7" />
<rect x="600.6" y="254.0" width="11.7" height="13.5" rx="0" fill="url(#boltg)" stroke="#262626" stroke-width="1.0" />
<rect x="612.3" y="254.6" width="21.9" height="12.3" rx="0" fill="url(#boltg)" stroke="#262626" stroke-width="0.9" />
<path d="M612.3,254.6 L634.2,254.6 M612.3,266.9 L634.2,266.9" stroke="#333" stroke-width="1.4" stroke-dasharray="0.8,0.9" fill="none"/>
<rect x="634.2" y="254.6" width="6.7" height="12.3" rx="0" fill="#eef0f6" stroke="#262626" stroke-width="0.8" />
<line x1="637.5" y1="255.0" x2="637.5" y2="266.5" stroke="#999" stroke-width="0.6" />
<polygon points="640.9,255.5 646.0,260.8 640.9,266.0" fill="#f2f3f6" stroke="#262626" stroke-width="0.8" stroke-linejoin="round" />
<rect x="701.4" y="250.7" width="11.7" height="20.2" rx="0" fill="url(#boltg)" stroke="#262626" stroke-width="1.0" />
<path d="M710.5999999999999,255.664 L707.5999999999999,257.164 L710.5999999999999,258.664" fill="none" stroke="#555" stroke-width="0.7" />
<path d="M710.5999999999999,262.936 L707.5999999999999,264.436 L710.5999999999999,265.936" fill="none" stroke="#555" stroke-width="0.7" />
<rect x="691.3" y="254.0" width="10.1" height="13.5" rx="0" fill="url(#boltg)" stroke="#262626" stroke-width="1.0" />
<rect x="667.8" y="254.6" width="23.5" height="12.3" rx="0" fill="url(#boltg)" stroke="#262626" stroke-width="0.9" />
<path d="M691.3,254.6 L667.8,254.6 M691.3,266.9 L667.8,266.9" stroke="#333" stroke-width="1.4" stroke-dasharray="0.8,0.9" fill="none"/>
<rect x="661.0" y="254.6" width="6.8" height="12.3" rx="0" fill="#eef0f6" stroke="#262626" stroke-width="0.8" />
<line x1="664.4" y1="255.0" x2="664.4" y2="266.5" stroke="#999" stroke-width="0.6" />
<polygon points="661.0,255.5 657.0,260.8 661.0,266.0" fill="#f2f3f6" stroke="#262626" stroke-width="0.8" stroke-linejoin="round" />
<polygon points="796.0,250.0 796.0,240.7 802.2,240.7 807.2,259.0 815.2,259.0 820.2,240.7 825.7,240.7 830.7,259.0 838.7,259.0 843.7,240.7 849.2,240.7 854.2,259.0 862.2,259.0 867.2,240.7 872.5,240.7 877.5,259.0 885.5,259.0 890.5,240.7 896.0,240.7 901.0,259.0 909.0,259.0 914.0,240.7 919.0,240.7 921.0,243.4 925.4,243.4 925.4,282.6 879.0,282.6 879.0,305.0 800.0,305.0 800.0,286.0 792.6,286.0 792.6,257.0" fill="#b9bec2" stroke="#262626" stroke-width="1.1" stroke-linejoin="round" />
<polygon points="879.0,282.6 925.4,282.6 925.4,315.0 879.0,315.0" fill="#b9bec2" stroke="#262626" stroke-width="1.0" stroke-linejoin="round" />
<polygon points="879.5,283.0 888.0,283.0 888.0,312.0 879.5,312.0" fill="#a9acb0" stroke="#262626" stroke-width="0.8" stroke-linejoin="round" />
<polygon points="800.0,305.0 879.0,305.0 879.0,312.8 800.0,312.8" fill="#dfe1e6" stroke="#262626" stroke-width="0.9" stroke-linejoin="round" />
<polygon points="764.5,286.0 800.0,286.0 800.0,308.0 764.5,308.0" fill="#b9bec2" stroke="#262626" stroke-width="1.0" stroke-linejoin="round" />
<polygon points="796.0,483.6 796.0,492.9 802.2,492.9 807.2,474.6 815.2,474.6 820.2,492.9 825.7,492.9 830.7,474.6 838.7,474.6 843.7,492.9 849.2,492.9 854.2,474.6 862.2,474.6 867.2,492.9 872.5,492.9 877.5,474.6 885.5,474.6 890.5,492.9 896.0,492.9 901.0,474.6 909.0,474.6 914.0,492.9 919.0,492.9 921.0,490.2 925.4,490.2 925.4,451.0 879.0,451.0 879.0,428.6 800.0,428.6 800.0,447.6 792.6,447.6 792.6,476.6" fill="#b9bec2" stroke="#262626" stroke-width="1.1" stroke-linejoin="round" />
<polygon points="879.0,451.0 925.4,451.0 925.4,418.6 879.0,418.6" fill="#b9bec2" stroke="#262626" stroke-width="1.0" stroke-linejoin="round" />
<polygon points="879.5,450.6 888.0,450.6 888.0,421.6 879.5,421.6" fill="#a9acb0" stroke="#262626" stroke-width="0.8" stroke-linejoin="round" />
<polygon points="800.0,428.6 879.0,428.6 879.0,420.8 800.0,420.8" fill="#dfe1e6" stroke="#262626" stroke-width="0.9" stroke-linejoin="round" />
<polygon points="764.5,447.6 800.0,447.6 800.0,425.6 764.5,425.6" fill="#b9bec2" stroke="#262626" stroke-width="1.0" stroke-linejoin="round" />
<path d="M806,312.8 L806,319 L873,319 L873,312.8" fill="none" stroke="#555" stroke-width="1.1" stroke-dasharray="4,2.5"/>
<path d="M806,420.4 L806,414.5 L873,414.5 L873,420.4" fill="none" stroke="#555" stroke-width="1.1" stroke-dasharray="4,2.5"/>
<rect x="757.5" y="292.7" width="7.5" height="11.2" rx="0" fill="url(#boltg)" stroke="#262626" stroke-width="1.0" />
<path d="M760.0,294.784 L763.0,296.284 L760.0,297.784" fill="none" stroke="#555" stroke-width="0.7" />
<path d="M760.0,298.816 L763.0,300.316 L760.0,301.816" fill="none" stroke="#555" stroke-width="0.7" />
<rect x="765.0" y="293.8" width="25.4" height="9.0" rx="0" fill="url(#boltg)" stroke="#262626" stroke-width="1.0" />
<rect x="790.4" y="294.4" width="15.6" height="7.8" rx="0" fill="url(#boltg)" stroke="#262626" stroke-width="0.9" />
<path d="M790.4,294.40000000000003 L806,294.40000000000003 M790.4,302.2 L806,302.2" stroke="#333" stroke-width="1.4" stroke-dasharray="0.8,0.9" fill="none"/>
<rect x="806.0" y="294.4" width="3.4" height="7.8" rx="0" fill="#eef0f6" stroke="#262626" stroke-width="0.8" />
<line x1="807.7" y1="294.8" x2="807.7" y2="301.8" stroke="#999" stroke-width="0.6" />
<polygon points="809.4,295.3 819.5,298.3 809.4,301.3" fill="#f2f3f6" stroke="#262626" stroke-width="0.8" stroke-linejoin="round" />
<rect x="925.8" y="289.3" width="7.8" height="14.6" rx="0" fill="url(#boltg)" stroke="#262626" stroke-width="1.0" />
<path d="M931.0999999999999,292.472 L928.0999999999999,293.972 L931.0999999999999,295.472" fill="none" stroke="#555" stroke-width="0.7" />
<path d="M931.0999999999999,297.728 L928.0999999999999,299.228 L931.0999999999999,300.728" fill="none" stroke="#555" stroke-width="0.7" />
<rect x="919.0" y="291.5" width="6.8" height="10.0" rx="0" fill="url(#boltg)" stroke="#262626" stroke-width="1.0" />
<rect x="894.5" y="292.1" width="24.5" height="8.8" rx="0" fill="url(#boltg)" stroke="#262626" stroke-width="0.9" />
<path d="M919.0,292.1 L894.5,292.1 M919.0,300.9 L894.5,300.9" stroke="#333" stroke-width="1.4" stroke-dasharray="0.8,0.9" fill="none"/>
<rect x="890.0" y="292.1" width="4.5" height="8.8" rx="0" fill="#eef0f6" stroke="#262626" stroke-width="0.8" />
<line x1="892.2" y1="292.5" x2="892.2" y2="300.5" stroke="#999" stroke-width="0.6" />
<polygon points="890.0,293.0 888.0,296.5 890.0,300.0" fill="#f2f3f6" stroke="#262626" stroke-width="0.8" stroke-linejoin="round" />
<rect x="879.0" y="282.6" width="46.4" height="32.4" rx="0" fill="none" stroke="#262626" stroke-width="1.0" />
<path d="M925.4,433 L916,433 L912,436 L916,439 L925.4,439" fill="#eef0f4" stroke="#444" stroke-width="0.7"/>
<line x1="908.0" y1="436.0" x2="926.0" y2="436.0" stroke="#555" stroke-width="0.6" />
<polygon points="1049.6,268.0 1110.3,268.0 1110.3,258.0 1317.0,258.0 1317.0,266.7 1443.6,266.7 1443.6,270.6 1501.0,270.6 1501.0,469.4 1443.6,469.4 1443.6,472.3 1317.0,472.3 1317.0,482.3 1110.3,482.3 1110.3,471.2 1049.6,471.2" fill="url(#shaft2)" stroke="none" stroke-linejoin="round" />
<path d="M1049.6,268.0 L1110.3,268.0 L1110.3,258.0 L1317.0,258.0 L1317.0,266.7 L1443.6,266.7 L1443.6,270.6 L1501.0,270.6 L1501.0,469.4 L1443.6,469.4 L1443.6,472.3 L1317.0,472.3 L1317.0,482.3 L1110.3,482.3 L1110.3,471.2 L1049.6,471.2" fill="none" stroke="#262626" stroke-width="1.1" stroke-linejoin="round"/>
<line x1="1103.5" y1="268.0" x2="1103.5" y2="472.0" stroke="#333" stroke-width="0.8" />
<line x1="1109.3" y1="268.0" x2="1109.3" y2="472.0" stroke="#333" stroke-width="0.8" />
<line x1="1317.0" y1="258.0" x2="1317.0" y2="482.0" stroke="#262626" stroke-width="1.0" />
<rect x="1443.8" y="269.0" width="57.7" height="202.0" rx="0" fill="url(#shaft2)" stroke="#262626" stroke-width="1.0" />
<rect x="1443.8" y="269.0" width="37.7" height="202.0" rx="0" fill="url(#shaft2)" stroke="#262626" stroke-width="1.0" />
<line x1="1448.8" y1="269.5" x2="1448.8" y2="470.5" stroke="#505050" stroke-width="0.7" />
<line x1="1451.7" y1="269.5" x2="1451.7" y2="470.5" stroke="#505050" stroke-width="0.7" />
<line x1="1454.6" y1="269.5" x2="1454.6" y2="470.5" stroke="#505050" stroke-width="0.7" />
<line x1="1457.5" y1="269.5" x2="1457.5" y2="470.5" stroke="#505050" stroke-width="0.7" />
<line x1="1460.4" y1="269.5" x2="1460.4" y2="470.5" stroke="#505050" stroke-width="0.7" />
<line x1="1463.3" y1="269.5" x2="1463.3" y2="470.5" stroke="#505050" stroke-width="0.7" />
<line x1="1466.2" y1="269.5" x2="1466.2" y2="470.5" stroke="#505050" stroke-width="0.7" />
<line x1="1469.1" y1="269.5" x2="1469.1" y2="470.5" stroke="#505050" stroke-width="0.7" />
<line x1="1472.0" y1="269.5" x2="1472.0" y2="470.5" stroke="#505050" stroke-width="0.7" />
<line x1="1474.9" y1="269.5" x2="1474.9" y2="470.5" stroke="#505050" stroke-width="0.7" />
<line x1="1477.8" y1="269.5" x2="1477.8" y2="470.5" stroke="#505050" stroke-width="0.7" />
<line x1="1480.7" y1="269.5" x2="1480.7" y2="470.5" stroke="#505050" stroke-width="0.7" />
<line x1="1481.5" y1="269.0" x2="1481.5" y2="471.0" stroke="#262626" stroke-width="1.0" />
<line x1="1482.0" y1="273.7" x2="1501.0" y2="273.7" stroke="#666" stroke-width="0.8" stroke-dasharray="5,2"/>
<line x1="1482.0" y1="466.3" x2="1501.0" y2="466.3" stroke="#666" stroke-width="0.8" stroke-dasharray="5,2"/>
<rect x="1049.6" y="200.9" width="80.6" height="56.3" rx="0" fill="#b8bec3" stroke="none" />
<rect x="1049.6" y="257.2" width="18.4" height="10.8" rx="0" fill="#b8bec3" stroke="none" />
<rect x="1049.6" y="233.3" width="80.6" height="23.9" rx="0" fill="#e2e4ee" stroke="none" />
<line x1="1049.6" y1="222.6" x2="1068.0" y2="222.6" stroke="#262626" stroke-width="0.9" />
<line x1="1049.6" y1="233.0" x2="1068.0" y2="233.0" stroke="#262626" stroke-width="0.9" />
<line x1="1110.3" y1="233.0" x2="1130.2" y2="233.0" stroke="#444" stroke-width="0.9" />
<line x1="1049.6" y1="257.5" x2="1068.0" y2="257.5" stroke="#262626" stroke-width="0.9" />
<line x1="1049.6" y1="268.0" x2="1068.0" y2="268.0" stroke="#262626" stroke-width="0.9" />
<polygon points="1068.0,233.5 1068.0,226.3 1071.0,223.3 1107.3,223.3 1110.3,226.3 1110.3,233.5" fill="#64a2dc" stroke="#262626" stroke-width="1.1" stroke-linejoin="round" />
<polygon points="1068.0,258.0 1110.3,258.0 1110.3,264.6 1107.3,267.6 1071.0,267.6 1068.0,264.6" fill="#64a2dc" stroke="#262626" stroke-width="1.1" stroke-linejoin="round" />
<rect x="1069.5" y="233.5" width="39.3" height="24.5" rx="0" fill="#f4f5fa" stroke="#262626" stroke-width="0.7" />
<rect x="1076.5" y="233.5" width="24.9" height="23.2" rx="2.5" fill="url(#roller)" stroke="#262626" stroke-width="1.1" />
<rect x="1071.5" y="240.0" width="3.2" height="7.0" rx="0" fill="#e6c0a0" stroke="none" />
<rect x="1103.5" y="240.0" width="3.2" height="7.0" rx="0" fill="#e6c0a0" stroke="none" />
<rect x="1317.0" y="201.4" width="144.6" height="44.6" rx="0" fill="#b8bec3" stroke="none" />
<rect x="1317.0" y="229.4" width="144.6" height="16.6" rx="0" fill="#e2e4ee" stroke="none" />
<line x1="1450.4" y1="201.4" x2="1450.4" y2="223.0" stroke="#262626" stroke-width="1.0" />
<line x1="1330.0" y1="223.0" x2="1450.4" y2="223.0" stroke="#262626" stroke-width="1.0" />
<line x1="1317.0" y1="229.4" x2="1330.0" y2="229.4" stroke="#262626" stroke-width="0.9" />
<line x1="1440.2" y1="229.4" x2="1461.6" y2="229.4" stroke="#555" stroke-width="0.8" />
<line x1="1461.6" y1="201.4" x2="1461.6" y2="246.0" stroke="#333" stroke-width="1.0" />
<polygon points="1330.0,223.0 1373.6,223.0 1373.6,242.3 1370.0,242.3 1332.0,231.0 1330.0,230.0" fill="#64a2dc" stroke="#262626" stroke-width="1.1" stroke-linejoin="round" />
<polygon points="1396.6,223.0 1440.2,223.0 1440.2,230.0 1438.2,231.0 1400.2,242.3 1396.6,242.3" fill="#64a2dc" stroke="#262626" stroke-width="1.1" stroke-linejoin="round" />
<rect x="1374.3" y="223.0" width="21.7" height="16.7" rx="0" fill="#64a2dc" stroke="#262626" stroke-width="1.0" />
<rect x="1381.0" y="224.0" width="8.0" height="15.0" rx="0" fill="#f2f2f2" stroke="#262626" stroke-width="0.6" />
<rect x="1374.3" y="239.7" width="21.7" height="20.3" rx="0" fill="#e2e4ee" stroke="#262626" stroke-width="0.8" />
<rect x="1374.3" y="260.0" width="21.7" height="7.2" rx="0" fill="#64a2dc" stroke="#262626" stroke-width="1.0" />
<rect x="1366.0" y="239.7" width="8.3" height="20.3" rx="0" fill="#e2e4ee" stroke="none" />
<rect x="1396.0" y="239.7" width="8.2" height="20.3" rx="0" fill="#e2e4ee" stroke="none" />
<polygon points="1316.6,246.0 1330.0,246.0 1328.5,252.0 1366.0,260.0 1367.0,256.3 1373.6,256.3 1373.6,267.2 1316.6,267.2" fill="#64a2dc" stroke="#262626" stroke-width="1.1" stroke-linejoin="round" />
<polygon points="1453.5,246.0 1440.2,246.0 1441.7,252.0 1404.2,260.0 1403.2,256.3 1396.6,256.3 1396.6,267.2 1453.5,267.2" fill="#64a2dc" stroke="#262626" stroke-width="1.1" stroke-linejoin="round" />
<polygon points="1332.0,230.7 1369.1,241.6 1365.3,258.9 1328.2,251.2" fill="url(#roller)" stroke="#262626" stroke-width="1.1" stroke-linejoin="round" />
<polygon points="1438.2,230.7 1401.1,241.6 1404.9,258.9 1442.0,251.2" fill="url(#roller)" stroke="#262626" stroke-width="1.1" stroke-linejoin="round" />
<polygon points="1326.0,231.0 1331.0,232.0 1328.0,246.0 1323.0,245.0" fill="#ffffff" stroke="#262626" stroke-width="0.7" stroke-linejoin="round" />
<polygon points="1444.0,231.0 1439.0,232.0 1442.0,246.0 1447.0,245.0" fill="#ffffff" stroke="#262626" stroke-width="0.7" stroke-linejoin="round" />
<polygon points="1453.8,244.4 1474.0,244.4 1478.0,248.4 1478.0,268.4 1453.8,268.4" fill="#e2e4ee" stroke="#262626" stroke-width="1.0" stroke-linejoin="round" />
<polygon points="1455.5,250.6 1478.0,250.6 1478.0,268.4 1455.5,268.4" fill="#64a2dc" stroke="#262626" stroke-width="1.0" stroke-linejoin="round" />
<polygon points="1454.5,268.4 1455.0,250.0 1466.0,248.0 1466.5,249.5 1457.0,251.5 1456.8,268.4" fill="#64a2dc" stroke="#262626" stroke-width="0.6" stroke-linejoin="round" />
<polygon points="1455.0,249.0 1459.5,240.5 1461.0,241.5 1457.5,249.5" fill="#f0f2f6" stroke="#262626" stroke-width="0.7" stroke-linejoin="round" />
<rect x="1049.6" y="482.0" width="80.6" height="56.3" rx="0" fill="#b8bec3" stroke="none" />
<rect x="1049.6" y="471.2" width="18.4" height="10.8" rx="0" fill="#b8bec3" stroke="none" />
<rect x="1049.6" y="482.0" width="80.6" height="23.9" rx="0" fill="#e2e4ee" stroke="none" />
<line x1="1049.6" y1="516.6" x2="1068.0" y2="516.6" stroke="#262626" stroke-width="0.9" />
<line x1="1049.6" y1="506.2" x2="1068.0" y2="506.2" stroke="#262626" stroke-width="0.9" />
<line x1="1110.3" y1="506.2" x2="1130.2" y2="506.2" stroke="#444" stroke-width="0.9" />
<line x1="1049.6" y1="481.7" x2="1068.0" y2="481.7" stroke="#262626" stroke-width="0.9" />
<line x1="1049.6" y1="471.2" x2="1068.0" y2="471.2" stroke="#262626" stroke-width="0.9" />
<polygon points="1068.0,505.7 1068.0,512.9 1071.0,515.9 1107.3,515.9 1110.3,512.9 1110.3,505.7" fill="#64a2dc" stroke="#262626" stroke-width="1.1" stroke-linejoin="round" />
<polygon points="1068.0,481.2 1110.3,481.2 1110.3,474.6 1107.3,471.6 1071.0,471.6 1068.0,474.6" fill="#64a2dc" stroke="#262626" stroke-width="1.1" stroke-linejoin="round" />
<rect x="1069.5" y="481.2" width="39.3" height="24.5" rx="0" fill="#f4f5fa" stroke="#262626" stroke-width="0.7" />
<rect x="1076.5" y="482.5" width="24.9" height="23.2" rx="2.5" fill="url(#roller)" stroke="#262626" stroke-width="1.1" />
<rect x="1071.5" y="492.2" width="3.2" height="7.0" rx="0" fill="#e6c0a0" stroke="none" />
<rect x="1103.5" y="492.2" width="3.2" height="7.0" rx="0" fill="#e6c0a0" stroke="none" />
<rect x="1317.0" y="493.2" width="144.6" height="44.6" rx="0" fill="#b8bec3" stroke="none" />
<rect x="1317.0" y="493.2" width="144.6" height="16.6" rx="0" fill="#e2e4ee" stroke="none" />
<line x1="1450.4" y1="537.8" x2="1450.4" y2="516.2" stroke="#262626" stroke-width="1.0" />
<line x1="1330.0" y1="516.2" x2="1450.4" y2="516.2" stroke="#262626" stroke-width="1.0" />
<line x1="1317.0" y1="509.8" x2="1330.0" y2="509.8" stroke="#262626" stroke-width="0.9" />
<line x1="1440.2" y1="509.8" x2="1461.6" y2="509.8" stroke="#555" stroke-width="0.8" />
<line x1="1461.6" y1="537.8" x2="1461.6" y2="493.2" stroke="#333" stroke-width="1.0" />
<polygon points="1330.0,516.2 1373.6,516.2 1373.6,496.9 1370.0,496.9 1332.0,508.2 1330.0,509.2" fill="#64a2dc" stroke="#262626" stroke-width="1.1" stroke-linejoin="round" />
<polygon points="1396.6,516.2 1440.2,516.2 1440.2,509.2 1438.2,508.2 1400.2,496.9 1396.6,496.9" fill="#64a2dc" stroke="#262626" stroke-width="1.1" stroke-linejoin="round" />
<rect x="1374.3" y="499.5" width="21.7" height="16.7" rx="0" fill="#64a2dc" stroke="#262626" stroke-width="1.0" />
<rect x="1381.0" y="500.2" width="8.0" height="15.0" rx="0" fill="#f2f2f2" stroke="#262626" stroke-width="0.6" />
<rect x="1374.3" y="479.2" width="21.7" height="20.3" rx="0" fill="#e2e4ee" stroke="#262626" stroke-width="0.8" />
<rect x="1374.3" y="472.0" width="21.7" height="7.2" rx="0" fill="#64a2dc" stroke="#262626" stroke-width="1.0" />
<rect x="1366.0" y="479.2" width="8.3" height="20.3" rx="0" fill="#e2e4ee" stroke="none" />
<rect x="1396.0" y="479.2" width="8.2" height="20.3" rx="0" fill="#e2e4ee" stroke="none" />
<polygon points="1316.6,493.2 1330.0,493.2 1328.5,487.2 1366.0,479.2 1367.0,482.9 1373.6,482.9 1373.6,472.0 1316.6,472.0" fill="#64a2dc" stroke="#262626" stroke-width="1.1" stroke-linejoin="round" />
<polygon points="1453.5,493.2 1440.2,493.2 1441.7,487.2 1404.2,479.2 1403.2,482.9 1396.6,482.9 1396.6,472.0 1453.5,472.0" fill="#64a2dc" stroke="#262626" stroke-width="1.1" stroke-linejoin="round" />
<polygon points="1332.0,508.5 1369.1,497.6 1365.3,480.3 1328.2,488.0" fill="url(#roller)" stroke="#262626" stroke-width="1.1" stroke-linejoin="round" />
<polygon points="1438.2,508.5 1401.1,497.6 1404.9,480.3 1442.0,488.0" fill="url(#roller)" stroke="#262626" stroke-width="1.1" stroke-linejoin="round" />
<polygon points="1326.0,508.2 1331.0,507.2 1328.0,493.2 1323.0,494.2" fill="#ffffff" stroke="#262626" stroke-width="0.7" stroke-linejoin="round" />
<polygon points="1444.0,508.2 1439.0,507.2 1442.0,493.2 1447.0,494.2" fill="#ffffff" stroke="#262626" stroke-width="0.7" stroke-linejoin="round" />
<polygon points="1453.8,494.8 1474.0,494.8 1478.0,490.8 1478.0,470.8 1453.8,470.8" fill="#e2e4ee" stroke="#262626" stroke-width="1.0" stroke-linejoin="round" />
<polygon points="1455.5,488.6 1478.0,488.6 1478.0,470.8 1455.5,470.8" fill="#64a2dc" stroke="#262626" stroke-width="1.0" stroke-linejoin="round" />
<polygon points="1454.5,470.8 1455.0,489.2 1466.0,491.2 1466.5,489.7 1457.0,487.7 1456.8,470.8" fill="#64a2dc" stroke="#262626" stroke-width="0.6" stroke-linejoin="round" />
<polygon points="1455.0,490.2 1459.5,498.7 1461.0,497.7 1457.5,489.7" fill="#f0f2f6" stroke="#262626" stroke-width="0.7" stroke-linejoin="round" />
<line x1="1088.5" y1="167.0" x2="1088.5" y2="575.0" stroke="#6e6e6e" stroke-width="0.9" />
<line x1="1385.2" y1="167.0" x2="1385.2" y2="520.0" stroke="#6a6a6a" stroke-width="1.3" />
<line x1="1090.0" y1="170.5" x2="1234.0" y2="170.5" stroke="#2a2a2a" stroke-width="1.0" />
<line x1="1252.0" y1="170.5" x2="1385.0" y2="170.5" stroke="#2a2a2a" stroke-width="1.0" />
<text x="1089.8" y="163.5" font-size="18" text-anchor="middle" fill="#161616" font-family="Liberation Serif">I</text>
<text x="1384.5" y="163.5" font-size="18" text-anchor="middle" fill="#161616" font-family="Liberation Serif">II</text>
<polygon points="1093.0,170.5 1101.0,168.2 1101.0,172.8" fill="#2a2a2a"/>
<polygon points="1382.0,170.5 1374.0,168.2 1374.0,172.8" fill="#2a2a2a"/>
<text x="1244.0" y="175.5" font-size="17.5" text-anchor="middle" fill="#161616" >L</text>
<line x1="1216.7" y1="505.0" x2="1216.7" y2="575.0" stroke="#5a5a5a" stroke-width="0.9" />
<line x1="1090.0" y1="569.6" x2="1140.0" y2="569.6" stroke="#2a2a2a" stroke-width="1.0" />
<line x1="1166.0" y1="569.6" x2="1216.0" y2="569.6" stroke="#2a2a2a" stroke-width="1.0" />
<polygon points="1093.0,569.6 1101.0,567.3 1101.0,571.9" fill="#2a2a2a"/>
<polygon points="1213.5,569.6 1205.5,567.3 1205.5,571.9" fill="#2a2a2a"/>
<text x="1146.0" y="572.0" font-size="17.5" text-anchor="start" fill="#161616" >L<tspan font-size="12.5" dy="3">1</tspan></text>
<line x1="1311.3" y1="365.0" x2="1311.3" y2="575.0" stroke="#5a5a5a" stroke-width="0.9" />
<line x1="1458.5" y1="500.0" x2="1458.5" y2="575.0" stroke="#5a5a5a" stroke-width="0.9" />
<line x1="1312.0" y1="568.7" x2="1378.0" y2="568.7" stroke="#2a2a2a" stroke-width="1.0" />
<line x1="1395.0" y1="568.7" x2="1458.0" y2="568.7" stroke="#2a2a2a" stroke-width="1.0" />
<polygon points="1314.5,568.7 1322.5,566.4 1322.5,571.0" fill="#2a2a2a"/>
<polygon points="1456.5,568.7 1448.5,566.4 1448.5,571.0" fill="#2a2a2a"/>
<text x="1386.4" y="573.0" font-size="17.5" text-anchor="middle" fill="#161616" >a</text>
<line x1="1304.3" y1="369.7" x2="1385.0" y2="369.7" stroke="#555" stroke-width="1.3" />
<line x1="1390.0" y1="369.7" x2="1500.0" y2="369.7" stroke="#555" stroke-width="1.3" stroke-dasharray="45,3,2,3"/>
<path d="M1353,232 L1311.3,369.7 L1353,507.4" fill="none" stroke="#2a2a2a" stroke-width="1.0" stroke-dasharray="16,3,2,3"/>
<path d="M1417.4,232 L1459,369.7 L1417.4,507.4" fill="none" stroke="#2a2a2a" stroke-width="1.0" stroke-dasharray="16,3,2,3"/>
<line x1="1342.4" y1="341.0" x2="1342.4" y2="368.0" stroke="#5a5a5a" stroke-width="0.9" />
<line x1="1326.0" y1="343.5" x2="1342.0" y2="343.5" stroke="#2a2a2a" stroke-width="0.9" />
<polygon points="1342.0,343.5 1334.0,341.2 1334.0,345.8" fill="#2a2a2a"/>
<line x1="1386.0" y1="343.5" x2="1401.6" y2="343.5" stroke="#2a2a2a" stroke-width="0.9" />
<polygon points="1386.0,343.5 1394.0,341.2 1394.0,345.8" fill="#2a2a2a"/>
<text x="1356.5" y="347.5" font-size="18" text-anchor="start" fill="#161616" >a<tspan font-size="14" dy="2.5">1</tspan></text>
<text x="1378.2" y="385.3" font-size="16" text-anchor="middle" fill="#161616" >0</text>
<polygon points="1217.3,499.6 1207.5,482 1213,482 1213,364.8 1278.7,364.8 1278.7,360.5 1288.3,369.7 1278.7,379 1278.7,374.4 1221.6,374.4 1221.6,482 1227,482" fill="#d10d16"/>
<polygon points="1338.4,370 1347.4,370 1347.4,451.7 1352,451.7 1342.9,462 1333.8,451.7 1338.4,451.7" fill="#d10d16"/>
<text x="1246.5" y="352.6" font-size="17.2" text-anchor="start" fill="#161616" >K<tspan font-size="13.5" dy="3.5">a</tspan><tspan dy="-3.5">= F</tspan><tspan font-size="13.5" dy="3.5">a</tspan></text>
<text x="1355.5" y="457.0" font-size="17.2" text-anchor="start" fill="#161616" >F<tspan font-size="13.5" dy="3.5">r</tspan></text>
<text x="1229.0" y="500.5" font-size="17.2" text-anchor="start" fill="#161616" >K<tspan font-size="13.5" dy="3.5">r</tspan></text>
<path d="M1722.6,213 L1722.6,221 Q1722.6,226.8 1728.6,226.8 L1750.4,226.8 L1750.4,221.2 L1796,217.3 L1796,213 Q1796,207 1790,207 L1728.6,207 Q1722.6,207 1722.6,213 Z" fill="#b8cbea" stroke="#262626" stroke-width="1.2" stroke-linejoin="round"/>
<path d="M1722.6,261 L1722.6,268.4 Q1722.6,274.4 1728.6,274.4 L1790,274.4 Q1796,274.4 1796,268.4 L1796,261 Q1796,255 1790,255 L1728.6,255 Q1722.6,255 1722.6,261 Z" fill="#b8cbea" stroke="#262626" stroke-width="1.2" stroke-linejoin="round"/>
<rect x="1726.6" y="228.0" width="10.5" height="27.0" rx="0" fill="#c9cbce" stroke="none" />
<line x1="1726.6" y1="228.0" x2="1726.6" y2="255.0" stroke="#555" stroke-width="0.8" />
<line x1="1737.1" y1="228.0" x2="1737.1" y2="255.0" stroke="#555" stroke-width="0.8" />
<rect x="1727.6" y="229.6" width="8.5" height="12.9" rx="0" fill="#b8cbea" stroke="#333" stroke-width="0.9" />
<line x1="1727.6" y1="243.5" x2="1736.1" y2="243.5" stroke="#eee" stroke-width="1.2" />
<rect x="1781.6" y="228.0" width="10.5" height="27.0" rx="0" fill="#c9cbce" stroke="none" />
<line x1="1781.6" y1="228.0" x2="1781.6" y2="255.0" stroke="#555" stroke-width="0.8" />
<line x1="1792.1" y1="228.0" x2="1792.1" y2="255.0" stroke="#555" stroke-width="0.8" />
<rect x="1782.6" y="229.6" width="8.5" height="12.9" rx="0" fill="#b8cbea" stroke="#333" stroke-width="0.9" />
<line x1="1782.6" y1="243.5" x2="1791.1" y2="243.5" stroke="#eee" stroke-width="1.2" />
<circle cx="1759.0" cy="241.3" r="21" fill="#ffffff" stroke="#262626" stroke-width="1.2"/>
<path d="M1722.6,524.2 L1722.6,516.2 Q1722.6,510.40000000000003 1728.6,510.40000000000003 L1750.4,510.40000000000003 L1750.4,516.0 L1796,519.9000000000001 L1796,524.2 Q1796,530.2 1790,530.2 L1728.6,530.2 Q1722.6,530.2 1722.6,524.2 Z" fill="#b8cbea" stroke="#262626" stroke-width="1.2" stroke-linejoin="round"/>
<path d="M1722.6,476.20000000000005 L1722.6,468.80000000000007 Q1722.6,462.80000000000007 1728.6,462.80000000000007 L1790,462.80000000000007 Q1796,462.80000000000007 1796,468.80000000000007 L1796,476.20000000000005 Q1796,482.20000000000005 1790,482.20000000000005 L1728.6,482.20000000000005 Q1722.6,482.20000000000005 1722.6,476.20000000000005 Z" fill="#b8cbea" stroke="#262626" stroke-width="1.2" stroke-linejoin="round"/>
<rect x="1726.6" y="482.2" width="10.5" height="27.0" rx="0" fill="#c9cbce" stroke="none" />
<line x1="1726.6" y1="509.2" x2="1726.6" y2="482.2" stroke="#555" stroke-width="0.8" />
<line x1="1737.1" y1="509.2" x2="1737.1" y2="482.2" stroke="#555" stroke-width="0.8" />
<rect x="1727.6" y="494.7" width="8.5" height="12.9" rx="0" fill="#b8cbea" stroke="#333" stroke-width="0.9" />
<line x1="1727.6" y1="493.7" x2="1736.1" y2="493.7" stroke="#eee" stroke-width="1.2" />
<rect x="1781.6" y="482.2" width="10.5" height="27.0" rx="0" fill="#c9cbce" stroke="none" />
<line x1="1781.6" y1="509.2" x2="1781.6" y2="482.2" stroke="#555" stroke-width="0.8" />
<line x1="1792.1" y1="509.2" x2="1792.1" y2="482.2" stroke="#555" stroke-width="0.8" />
<rect x="1782.6" y="494.7" width="8.5" height="12.9" rx="0" fill="#b8cbea" stroke="#333" stroke-width="0.9" />
<line x1="1782.6" y1="493.7" x2="1791.1" y2="493.7" stroke="#eee" stroke-width="1.2" />
<circle cx="1759.0" cy="495.9" r="21" fill="#ffffff" stroke="#262626" stroke-width="1.2"/>
<line x1="1722.6" y1="162.0" x2="1722.6" y2="206.0" stroke="#444444" stroke-width="1.0" />
<line x1="1722.6" y1="228.0" x2="1722.6" y2="255.0" stroke="#444444" stroke-width="1.0" />
<line x1="1722.6" y1="275.0" x2="1722.6" y2="461.0" stroke="#444444" stroke-width="1.2" />
<line x1="1722.6" y1="481.0" x2="1722.6" y2="509.0" stroke="#444444" stroke-width="1.0" />
<line x1="1722.6" y1="530.0" x2="1722.6" y2="578.0" stroke="#444444" stroke-width="1.0" />
<line x1="1796.0" y1="162.0" x2="1796.0" y2="207.0" stroke="#444444" stroke-width="1.0" />
<line x1="1796.0" y1="275.0" x2="1796.0" y2="461.0" stroke="#444444" stroke-width="1.2" />
<line x1="1799.5" y1="373.0" x2="1799.5" y2="578.0" stroke="#444444" stroke-width="1.0" />
<line x1="1613.0" y1="207.4" x2="1718.8" y2="207.4" stroke="#444444" stroke-width="1.0" />
<line x1="1613.0" y1="529.8" x2="1718.8" y2="529.8" stroke="#444444" stroke-width="1.0" />
<line x1="1646.0" y1="227.8" x2="1718.8" y2="227.8" stroke="#444444" stroke-width="1.0" />
<line x1="1646.0" y1="509.4" x2="1718.8" y2="509.4" stroke="#444444" stroke-width="1.0" />
<line x1="1678.0" y1="255.0" x2="1718.8" y2="255.0" stroke="#444444" stroke-width="1.0" />
<line x1="1678.0" y1="482.2" x2="1718.8" y2="482.2" stroke="#444444" stroke-width="1.0" />
<line x1="1801.7" y1="255.0" x2="1875.0" y2="255.0" stroke="#444444" stroke-width="1.0" />
<line x1="1801.7" y1="482.2" x2="1875.0" y2="482.2" stroke="#444444" stroke-width="1.0" />
<line x1="1801.7" y1="275.0" x2="1843.0" y2="275.0" stroke="#444444" stroke-width="1.0" />
<line x1="1801.7" y1="461.2" x2="1843.0" y2="461.2" stroke="#444444" stroke-width="1.0" />
<line x1="1616.8" y1="217.4" x2="1616.8" y2="355.0" stroke="#444444" stroke-width="1.0" />
<line x1="1616.8" y1="382.7" x2="1616.8" y2="519.8" stroke="#444444" stroke-width="1.0" />
<polygon points="1616.8,207.4 1614.5,219.4 1619.1,219.4" fill="#2a2a2a"/>
<polygon points="1616.8,529.8 1614.5,517.8 1619.1,517.8" fill="#2a2a2a"/>
<line x1="1649.8" y1="237.8" x2="1649.8" y2="355.0" stroke="#444444" stroke-width="1.0" />
<line x1="1649.8" y1="382.7" x2="1649.8" y2="499.4" stroke="#444444" stroke-width="1.0" />
<polygon points="1649.8,227.8 1647.5,239.8 1652.1,239.8" fill="#2a2a2a"/>
<polygon points="1649.8,509.4 1647.5,497.4 1652.1,497.4" fill="#2a2a2a"/>
<line x1="1681.7" y1="265.0" x2="1681.7" y2="355.0" stroke="#444444" stroke-width="1.0" />
<line x1="1681.7" y1="382.7" x2="1681.7" y2="472.2" stroke="#444444" stroke-width="1.0" />
<polygon points="1681.7,255.0 1679.4,267.0 1684.0,267.0" fill="#2a2a2a"/>
<polygon points="1681.7,482.2 1679.4,470.2 1684.0,470.2" fill="#2a2a2a"/>
<line x1="1838.8" y1="285.0" x2="1838.8" y2="355.0" stroke="#444444" stroke-width="1.0" />
<line x1="1838.8" y1="382.7" x2="1838.8" y2="451.2" stroke="#444444" stroke-width="1.0" />
<polygon points="1838.8,275.0 1836.5,287.0 1841.1,287.0" fill="#2a2a2a"/>
<polygon points="1838.8,461.2 1836.5,449.2 1841.1,449.2" fill="#2a2a2a"/>
<line x1="1871.8" y1="265.0" x2="1871.8" y2="355.0" stroke="#444444" stroke-width="1.0" />
<line x1="1871.8" y1="382.7" x2="1871.8" y2="472.2" stroke="#444444" stroke-width="1.0" />
<polygon points="1871.8,255.0 1869.5,267.0 1874.1,267.0" fill="#2a2a2a"/>
<polygon points="1871.8,482.2 1869.5,470.2 1874.1,470.2" fill="#2a2a2a"/>
<line x1="1724.0" y1="167.7" x2="1750.0" y2="167.7" stroke="#444444" stroke-width="1.0" />
<line x1="1768.0" y1="167.7" x2="1795.0" y2="167.7" stroke="#444444" stroke-width="1.0" />
<polygon points="1723.5,167.7 1735.5,165.4 1735.5,170.0" fill="#2a2a2a"/>
<polygon points="1794.5,167.7 1782.5,165.4 1782.5,170.0" fill="#2a2a2a"/>
<text x="1759.4" y="175.0" font-size="19.7" text-anchor="middle" fill="#161616" >B</text>
<line x1="1724.0" y1="569.0" x2="1750.0" y2="569.0" stroke="#444444" stroke-width="1.0" />
<line x1="1768.0" y1="569.0" x2="1798.0" y2="569.0" stroke="#444444" stroke-width="1.0" />
<polygon points="1723.5,569.0 1735.5,566.7 1735.5,571.3" fill="#2a2a2a"/>
<polygon points="1798.5,569.0 1786.5,566.7 1786.5,571.3" fill="#2a2a2a"/>
<text x="1759.0" y="576.0" font-size="19.7" text-anchor="middle" fill="#161616" >a</text>
<line x1="1751.0" y1="219.0" x2="1800.5" y2="368.6" stroke="#444" stroke-width="0.8" />
<line x1="1800.5" y1="368.6" x2="1751.0" y2="518.0" stroke="#444" stroke-width="0.8" />
<line x1="1720.0" y1="368.6" x2="1782.0" y2="368.6" stroke="#555" stroke-width="1.2" stroke-dasharray="38,4,2,4"/>
<line x1="1790.0" y1="368.6" x2="1801.7" y2="368.6" stroke="#555" stroke-width="1.2" />
<text x="1610.8" y="376.0" font-size="20" text-anchor="start" fill="#161616" >D</text>
<text x="1639.7" y="376.0" font-size="20" text-anchor="start" fill="#161616" >D<tspan font-size="15" dy="3.7">1</tspan></text>
<text x="1671.2" y="376.0" font-size="20" text-anchor="start" fill="#161616" >d<tspan font-size="15" dy="3.7">2</tspan></text>
<text x="1833.2" y="376.0" font-size="20" text-anchor="start" fill="#161616" >d</text>
<text x="1861.7" y="376.0" font-size="20" text-anchor="start" fill="#161616" >d<tspan font-size="15" dy="3.7">1</tspan></text>
<text x="1726.5" y="199.3" font-size="18.5" text-anchor="start" fill="#161616" >r<tspan font-size="13.3" dy="4.4">2</tspan></text>
<text x="1778.3" y="199.3" font-size="18.5" text-anchor="start" fill="#161616" >r<tspan font-size="13.3" dy="4.4">4</tspan></text>
<text x="1704.7" y="220.0" font-size="18.5" text-anchor="start" fill="#161616" >r<tspan font-size="13.3" dy="4.4">1</tspan></text>
<text x="1799.8" y="220.0" font-size="18.5" text-anchor="start" fill="#161616" >r<tspan font-size="13.3" dy="4.4">3</tspan></text>
<text x="1704.7" y="270.0" font-size="18.5" text-anchor="start" fill="#161616" >r<tspan font-size="13.3" dy="4.4">1</tspan></text>
<text x="1799.8" y="270.0" font-size="18.5" text-anchor="start" fill="#161616" >r<tspan font-size="13.3" dy="4.4">1</tspan></text>
<text x="1726.5" y="290.0" font-size="18.5" text-anchor="start" fill="#161616" >r<tspan font-size="13.3" dy="4.4">2</tspan></text>
<text x="1778.3" y="290.0" font-size="18.5" text-anchor="start" fill="#161616" >r<tspan font-size="13.3" dy="4.4">2</tspan></text>
</svg></body></html>
